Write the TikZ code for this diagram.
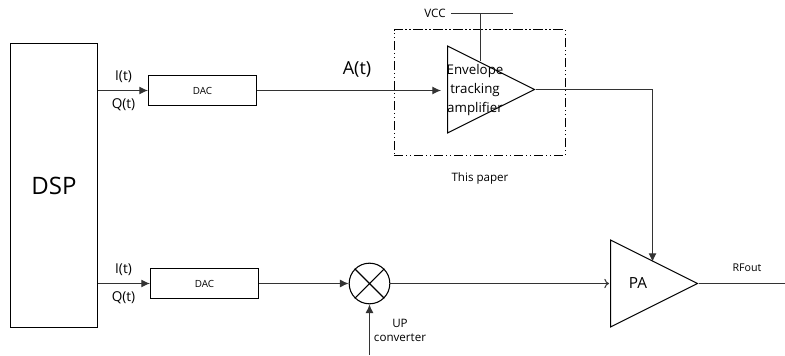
\documentclass[tikz,border=0pt]{standalone}
\usepackage{fontspec}
\setmainfont{Open Sans}
\usetikzlibrary{arrows.meta,shapes.geometric}
\tikzset{
  block/.style={draw, line width=0.8pt, inner sep=0pt},
  amp/.style={draw, line width=0.8pt, inner sep=0pt, isosceles triangle, isosceles triangle stretches, minimum width=65.25pt, minimum height=65.25pt, anchor=lower side},
  wire/.style={line width=0.8pt, black!80},
  feed/.style={wire, -{Latex[length=6.5pt,width=6pt]}},
  lab/.style={inner sep=0pt, font=\fontsize{8.7}{10.5}\selectfont},
  iqlab/.style={inner sep=0pt, font=\fontsize{10.2}{12}\selectfont}
}
\begin{document}
\begin{tikzpicture}[x=0.75pt, y=-0.75pt]
\useasboundingbox (0,0) rectangle (785,356);

% Blocks
\node[block, minimum width=65.25pt, minimum height=212.6pt, font=\fontsize{18}{20}\selectfont] (dsp) at (54,185.5) {DSP};
\node[block, minimum width=81pt, minimum height=22.5pt, font=\fontsize{7.4}{9}\selectfont] (dacup) at (202.5,90.5) {DAC};
\node[block, minimum width=81pt, minimum height=22.5pt, font=\fontsize{7.4}{9}\selectfont] (daclow) at (204.5,283.5) {DAC};
\node[block, circle, minimum size=30.5pt] (mix) at (369.5,283.5) {};
\draw[line width=0.8pt] (mix.north west) -- (mix.south east) (mix.north east) -- (mix.south west);

% Amplifiers
\node[amp] (envamp) at (447,89.5) {};
\node[amp] (pa) at (610,283.5) {};
\node[inner sep=0pt, align=center, font=\fontsize{10}{14}\selectfont] (envtext) at (475,90) {Envelope\\tracking\\amplifier};
\node[inner sep=0pt, font=\fontsize{11.5}{13}\selectfont] (patext) at (638,283) {PA};

% Dashed box
\node[draw, line width=0.8pt, dash pattern=on 7pt off 2pt on 1pt off 2pt on 1pt off 2pt, minimum width=128.5pt, minimum height=94.5pt, inner sep=0pt] (papbox) at (479.75,92.75) {};

% Free ends
\coordinate (vccleft) at (451,13.5);
\coordinate (vccright) at (513,13.5);
\coordinate (vcctop) at (480.5,13.5);
\coordinate (vcctri) at (480.5,61.5);
\coordinate (etin) at (441,90.5);
\coordinate (pain) at (609,283.5);
\coordinate (patop) at (652.5,262);
\coordinate (rfend) at (785,283.5);
\coordinate (loin) at (369.5,355);

% Connectors
\draw[feed] (dsp.east |- dacup) -- (dacup);
\draw[feed] (dsp.east |- daclow) -- (daclow);
\draw[feed] (dacup) -- (etin);
\draw[feed] (daclow) -- (mix);
\draw[feed] (loin) -- (mix);
\draw[wire, -{To[length=3.5pt,width=7pt]}] (mix) -- (pain);
\draw[feed] (envamp.apex) -| (patop);
\draw[wire] (pa.apex) -- (rfend);
\draw[wire] (vccleft) -- (vccright);
\draw[wire] (vcctop) -- (vcctri);

% Labels
\foreach \n/\y in {up/90.5, low/283.5} {
  \node[iqlab] (i\n) at (123.5,\y-13.5) {I(t)};
  \node[iqlab] (q\n) at (123.5,\y+14.5) {Q(t)};
}
\node[inner sep=0pt, font=\fontsize{13.5}{15}\selectfont] (at) at (357,69) {A(t)};
\node[lab] (vcc) at (435,13) {VCC};
\node[lab] (paper) at (480,178) {This paper};
\node[lab, align=center] (upconv) at (400,330) {UP\\converter};
\node[lab, font=\fontsize{8}{10}\selectfont] (rfout) at (747,268) {RFout};
\end{tikzpicture}
\end{document}
